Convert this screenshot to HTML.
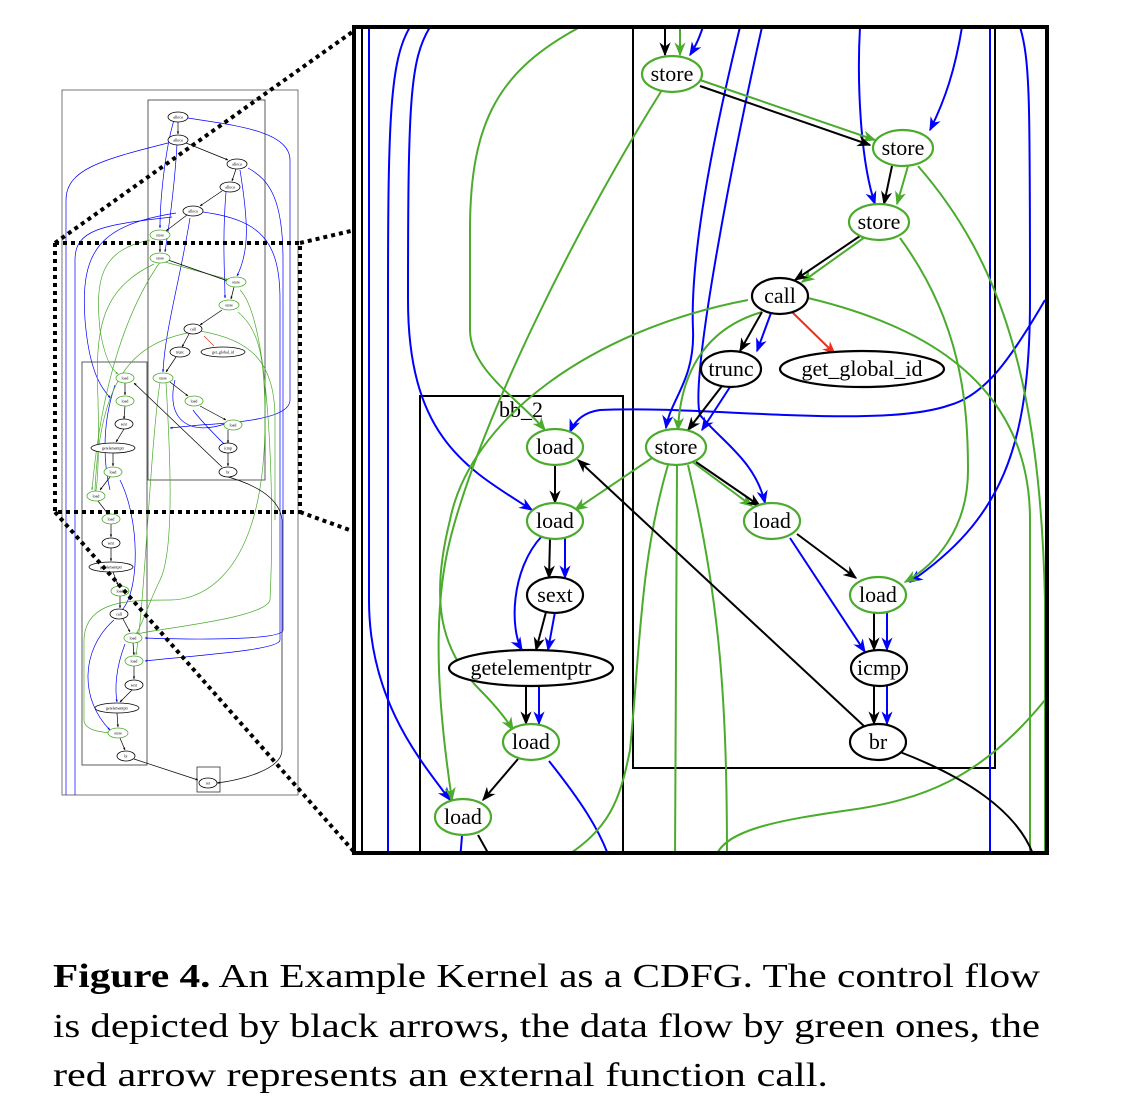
<!DOCTYPE html>
<html><head><meta charset="utf-8"><style>
html,body{margin:0;padding:0;background:#fff;}
svg{display:block;}
.cap{font-family:"Liberation Serif",serif;font-size:34px;fill:#000;}
</style></head><body>
<svg id="fig" width="1136" height="1112" viewBox="0 0 1136 1112" xmlns="http://www.w3.org/2000/svg">
<defs>
<marker id="ak" viewBox="0 0 10 10" refX="9" refY="5" markerWidth="7" markerHeight="7" orient="auto"><path d="M0,1 L10,5 L0,9 L3,5z" fill="#000"/></marker>
<marker id="ab" viewBox="0 0 10 10" refX="9" refY="5" markerWidth="7" markerHeight="7" orient="auto"><path d="M0,1 L10,5 L0,9 L3,5z" fill="#0000ff"/></marker>
<marker id="ag" viewBox="0 0 10 10" refX="9" refY="5" markerWidth="7" markerHeight="7" orient="auto"><path d="M0,1 L10,5 L0,9 L3,5z" fill="#4aab2c"/></marker>
<marker id="ar" viewBox="0 0 10 10" refX="9" refY="5" markerWidth="7" markerHeight="7" orient="auto"><path d="M0,1 L10,5 L0,9 L3,5z" fill="#e8321e"/></marker>
<marker id="sk" viewBox="0 0 10 10" refX="9" refY="5" markerWidth="4" markerHeight="4" orient="auto"><path d="M0,1 L10,5 L0,9z" fill="#000"/></marker>
<marker id="sb" viewBox="0 0 10 10" refX="9" refY="5" markerWidth="4" markerHeight="4" orient="auto"><path d="M0,1 L10,5 L0,9z" fill="#0000ff"/></marker>
<marker id="sg" viewBox="0 0 10 10" refX="9" refY="5" markerWidth="4" markerHeight="4" orient="auto"><path d="M0,1 L10,5 L0,9z" fill="#4aab2c"/></marker>
<clipPath id="mainclip"><rect x="354" y="27" width="693" height="826"/></clipPath>
</defs>

<g>
<rect x="62" y="90" width="236" height="705" fill="none" stroke="#555" stroke-width="0.8"/>
<rect x="148" y="100" width="117" height="380" fill="none" stroke="#333" stroke-width="0.8"/>
<rect x="82" y="362" width="65" height="403" fill="none" stroke="#333" stroke-width="0.8"/>
<rect x="197" y="767" width="23" height="25" fill="none" stroke="#333" stroke-width="0.8"/>
<g fill="none" stroke-width="0.7">
<path d="M188,118 C230,125 290,130 290,160 L290,400 C290,420 230,423 200,425 L170,428" stroke="#0000ff" marker-end="url(#sb)"/>
<path d="M168,143 C100,160 66,170 66,200 L66,795" stroke="#0000ff"/>
<path d="M172,217 C100,225 75,230 75,260 L75,795" stroke="#0000ff"/>
<path d="M176,213 C100,225 80,250 85,320 C90,380 105,390 110,398" stroke="#0000ff" marker-end="url(#sb)"/>
<path d="M203,212 C260,220 280,240 280,300 L280,640 C280,650 200,655 145,661" stroke="#0000ff" marker-end="url(#sb)"/>
<path d="M248,168 C270,180 283,200 283,260 L283,630 C283,640 200,640 145,638" stroke="#0000ff" marker-end="url(#sb)"/>
<path d="M174,120 C165,150 160,200 160,228" stroke="#0000ff" marker-end="url(#sb)"/>
<path d="M177,144 C175,180 170,220 165,252" stroke="#0000ff" marker-end="url(#sb)"/>
<path d="M190,218 C180,280 165,330 163,372" stroke="#0000ff" marker-end="url(#sb)"/>
<path d="M240,170 C248,220 250,250 237,276" stroke="#0000ff" marker-end="url(#sb)"/>
<path d="M226,192 C222,240 225,280 225,298" stroke="#0000ff" marker-end="url(#sb)"/>
<path d="M175,380 C165,420 190,440 235,420" stroke="#0000ff"/>
<path d="M193,410 C200,420 220,440 225,445" stroke="#0000ff" marker-end="url(#sb)"/>
<path d="M115,385 C100,430 105,470 110,490" stroke="#0000ff"/>
<path d="M120,480 C140,520 140,590 122,610" stroke="#0000ff"/>
<path d="M114,620 C80,650 80,700 110,730" stroke="#0000ff" marker-end="url(#sb)"/>
<path d="M125,644 C115,670 115,690 117,702" stroke="#0000ff" marker-end="url(#sb)"/>
<path d="M154,264 C100,290 95,330 98,400 C100,480 95,500 95,490" stroke="#4aab2c"/>
<path d="M150,240 C100,250 95,280 100,330 C105,360 112,370 118,374" stroke="#4aab2c" marker-end="url(#sg)"/>
<path d="M165,262 L230,280" stroke="#4aab2c" marker-end="url(#sg)"/>
<path d="M238,312 C260,330 265,360 265,420 C265,600 180,600 170,600 C130,600 85,600 84,640 L84,720 C84,730 100,732 110,733" stroke="#4aab2c" marker-end="url(#sg)"/>
<path d="M160,382 C150,450 145,600 136,655" stroke="#4aab2c" marker-end="url(#sg)"/>
<path d="M166,382 C170,450 175,550 160,580 C150,600 140,630 136,634" stroke="#4aab2c" marker-end="url(#sg)"/>
<path d="M240,290 C270,320 275,500 270,600 C265,620 140,630 135,635" stroke="#4aab2c"/>
<path d="M200,331 C130,340 100,380 95,490" stroke="#4aab2c"/>
<path d="M200,331 C250,340 275,360 275,420 L275,520" stroke="#4aab2c"/>
<path d="M160,262 C120,320 100,400 92,490" stroke="#4aab2c" marker-end="url(#sg)"/>
</g>
<g fill="none" stroke="#000" stroke-width="0.7">
<path d="M178,122 L178,134" marker-end="url(#sk)"/>
<path d="M186,143 L228,160" marker-end="url(#sk)"/>
<path d="M236,169 L232,181" marker-end="url(#sk)"/>
<path d="M222,191 L200,206" marker-end="url(#sk)"/>
<path d="M187,215 L166,231" marker-end="url(#sk)"/>
<path d="M160,240 L160,252" marker-end="url(#sk)"/>
<path d="M168,260 L228,281" marker-end="url(#sk)"/>
<path d="M234,287 L231,299" marker-end="url(#sk)"/>
<path d="M222,310 L200,325" marker-end="url(#sk)"/>
<path d="M189,334 L182,347" marker-end="url(#sk)"/>
<path d="M176,357 L166,372" marker-end="url(#sk)"/>
<path d="M125,383 L125,395" marker-end="url(#sk)"/>
<path d="M170,382 L188,396" marker-end="url(#sk)"/>
<path d="M200,406 L226,420" marker-end="url(#sk)"/>
<path d="M125,406 L124,419" marker-end="url(#sk)"/>
<path d="M124,429 L116,442" marker-end="url(#sk)"/>
<path d="M228,430 L228,443" marker-end="url(#sk)"/>
<path d="M113,453 L113,466" marker-end="url(#sk)"/>
<path d="M228,453 L228,466" marker-end="url(#sk)"/>
<path d="M110,477 L100,490" marker-end="url(#sk)"/>
<path d="M98,501 L108,514" marker-end="url(#sk)"/>
<path d="M111,524 L111,537" marker-end="url(#sk)"/>
<path d="M111,548 L111,561" marker-end="url(#sk)"/>
<path d="M113,572 L118,585" marker-end="url(#sk)"/>
<path d="M120,596 L120,608" marker-end="url(#sk)"/>
<path d="M123,619 L130,632" marker-end="url(#sk)"/>
<path d="M133,643 L134,655" marker-end="url(#sk)"/>
<path d="M134,666 L134,679" marker-end="url(#sk)"/>
<path d="M132,690 L120,702" marker-end="url(#sk)"/>
<path d="M117,713 L118,727" marker-end="url(#sk)"/>
<path d="M120,738 L125,750" marker-end="url(#sk)"/>
<path d="M134,759 L198,780" marker-end="url(#sk)"/>
<path d="M221,475 C260,485 280,500 282,520 L282,750 C282,770 240,780 217,783" marker-end="url(#sk)"/>
<path d="M222,467 L134,383" marker-end="url(#sk)"/>
</g>
<path d="M204,336 L214,346" fill="none" stroke="#e8321e" stroke-width="0.7"/>
<g id="mini-nodes"></g>
</g>

<g fill="none" stroke="#000" stroke-width="4" stroke-dasharray="4,4">
<path d="M55,243 L300,243 L300,512 L55,512" />
<path d="M55,243 L355,30"/>
<path d="M300,243 L355,230"/>
<path d="M55,512 L355,853"/>
<path d="M300,512 L355,532"/>
<path d="M55,243 L55,512"/>
</g>

<rect x="354" y="27" width="693" height="826" fill="#fff"/>
<g clip-path="url(#mainclip)">
<g fill="none" stroke="#000" stroke-width="2">
<line x1="362" y1="27" x2="362" y2="853"/>
<path d="M633,20 L633,768 L995,768 L995,20"/>
<rect x="420" y="396" width="203" height="470"/>
</g>
<text x="521" y="417" text-anchor="middle" font-family="Liberation Serif,serif" font-size="22">bb_2</text>

<g fill="none" stroke="#0000ff" stroke-width="2">
<path d="M369,27 L369,600 C369,700 420,760 450,800" marker-end="url(#ab)"/>
<path d="M410,27 C390,60 388,120 388,300 L388,853"/>
<path d="M430,27 C410,60 408,100 408,300 C408,440 470,470 532,510" marker-end="url(#ab)"/>
<path d="M1045,300 C1010,360 985,395 950,405 C880,430 700,405 600,410 C585,412 575,420 570,432" marker-end="url(#ab)"/>
<path d="M740,27 C710,150 690,260 693,330 C695,380 670,400 666,428" marker-end="url(#ab)"/>
<path d="M762,27 C730,170 690,380 700,415 C720,440 755,460 765,503" marker-end="url(#ab)"/>
<path d="M1020,27 C1030,60 1030,100 1030,300 C1030,450 1000,520 910,582" marker-end="url(#ab)"/>
<path d="M962,27 C955,70 945,100 930,130" marker-end="url(#ab)"/>
<path d="M860,27 C857,80 860,160 875,204" marker-end="url(#ab)"/>
<path d="M990,27 L990,853"/>
<path d="M703,27 C700,35 698,42 690,55" marker-end="url(#ab)"/>
<path d="M771,313 L757,351" marker-end="url(#ab)"/>
<path d="M730,387 L702,430" marker-end="url(#ab)"/>
<path d="M542,536 C510,570 510,630 522,650" marker-end="url(#ab)"/>
<path d="M565,538 L565,578" marker-end="url(#ab)"/>
<path d="M555,612 L548,650" marker-end="url(#ab)"/>
<path d="M539,686 L539,724" marker-end="url(#ab)"/>
<path d="M790,538 L865,652" marker-end="url(#ab)"/>
<path d="M887,612 L887,650" marker-end="url(#ab)"/>
<path d="M887,686 L887,724" marker-end="url(#ab)"/>
<path d="M549,761 C580,800 600,830 610,860"/>
<path d="M462,836 L460,860"/>
</g>

<g fill="none" stroke="#4aab2c" stroke-width="2">
<path d="M680,27 L680,55" marker-end="url(#ag)"/>
<path d="M700,80 L875,140" marker-end="url(#ag)"/>
<path d="M908,166 L897,204" marker-end="url(#ag)"/>
<path d="M865,237 L802,282" marker-end="url(#ag)"/>
<path d="M580,27 C500,70 470,120 470,230 L470,330 C470,370 520,400 545,430" marker-end="url(#ag)"/>
<path d="M662,90 C580,220 480,420 450,540 C430,620 440,720 452,800" marker-end="url(#ag)"/>
<path d="M918,166 C1000,260 1040,380 1045,600 L1045,860"/>
<path d="M900,238 C960,320 968,400 968,470 C968,530 935,565 905,582" marker-end="url(#ag)"/>
<path d="M748,300 C590,330 470,420 450,520 C430,600 440,650 480,690 C500,710 510,725 513,730" marker-end="url(#ag)"/>
<path d="M808,298 C900,320 1030,370 1030,520 L1030,860"/>
<path d="M762,312 C700,330 680,380 678,430" marker-end="url(#ag)"/>
<path d="M652,458 L575,510" marker-end="url(#ag)"/>
<path d="M690,460 L752,506" marker-end="url(#ag)"/>
<path d="M668,465 C640,560 640,650 630,750 C620,800 610,830 560,860"/>
<path d="M677,465 L675,860"/>
<path d="M688,465 C720,600 727,700 727,860"/>
<path d="M1045,700 C980,780 920,800 850,810 C780,820 720,830 715,860"/>
</g>

<g fill="none" stroke="#000" stroke-width="2">
<path d="M665,27 L665,55" marker-end="url(#ak)"/>
<path d="M700,86 L870,145" marker-end="url(#ak)"/>
<path d="M892,166 L884,204" marker-end="url(#ak)"/>
<path d="M860,236 L795,280" marker-end="url(#ak)"/>
<path d="M762,312 L740,351" marker-end="url(#ak)"/>
<path d="M722,386 L688,430" marker-end="url(#ak)"/>
<path d="M555,465 L555,503" marker-end="url(#ak)"/>
<path d="M696,462 L760,506" marker-end="url(#ak)"/>
<path d="M550,539 L549,578" marker-end="url(#ak)"/>
<path d="M546,612 L536,650" marker-end="url(#ak)"/>
<path d="M526,686 L526,724" marker-end="url(#ak)"/>
<path d="M797,534 L856,578" marker-end="url(#ak)"/>
<path d="M874,612 L874,650" marker-end="url(#ak)"/>
<path d="M874,686 L874,724" marker-end="url(#ak)"/>
<path d="M518,759 L483,800" marker-end="url(#ak)"/>
<path d="M865,727 L578,460" marker-end="url(#ak)"/>
<path d="M900,752 C960,775 1020,810 1035,860"/>
<path d="M478,835 L492,860"/>
</g>
<path d="M791,311 L835,354" fill="none" stroke="#e8321e" stroke-width="2" marker-end="url(#ar)"/>

<g id="main-nodes"></g>
</g>
<rect x="354" y="27" width="693" height="826" fill="none" stroke="#000" stroke-width="4"/>

<g>
<text class="cap" x="53" y="987" textLength="987" lengthAdjust="spacingAndGlyphs"><tspan font-weight="bold">Figure 4.</tspan> An Example Kernel as a CDFG. The control flow</text>
<text class="cap" x="53" y="1037" textLength="987" lengthAdjust="spacingAndGlyphs">is depicted by black arrows, the data flow by green ones, the</text>
<text class="cap" x="53" y="1086" textLength="775" lengthAdjust="spacingAndGlyphs">red arrow represents an external function call.</text>
</g>
</svg>
<script>
const NS = "http://www.w3.org/2000/svg";
const mainLabels = ["store","store","store","call","trunc","get_global_id","load","store","load","load","sext","load","getelementptr","icmp","load","br","load"];
const mainX = [672,903,879,780,731,862,555,676,555,772,555,878,531,879,531,878,463];
const mainY = [74,148,222,296,369,369,447,447,521,521,595,595,668,668,742,742,817];
const mainKind = ["g","g","g","k","k","k","g","g","g","g","k","g","k","k","g","k","g"];
const miniLabels = ["alloca","alloca","alloca","alloca","alloca","store","store","store","store","call","trunc","get_global_id","load","store","load","load","sext","load","getelementptr","icmp","load","br","load","load","sext","getelementptr","load","call","load","load","sext","getelementptr","store","br","ret"];
const miniX = [178,178,237,230,193,160,160,236,229,193,180,223,125,163,125,194,124,233,113,228,113,228,96,111,111,111,120,119,133,134,134,117,118,126,208];
const miniY = [117,140,164,187,211,235,258,282,305,329,352,352,378,378,401,401,424,425,448,448,472,472,496,519,543,567,591,614,638,661,685,708,733,756,783];
const miniKind = ["k","k","k","k","k","g","g","g","g","k","k","k","g","g","g","g","k","g","k","k","g","k","g","g","k","k","g","k","g","g","k","k","g","k","k"];
function rx(label, big){ if(label.length>8) return big?82:22; if(label.length>=5) return big?30:10; return big?28:9; }
const mg = document.getElementById("main-nodes");
for(let i=0;i<mainLabels.length;i++){
  const g=document.createElementNS(NS,"g");
  
  
  const e=document.createElementNS(NS,"ellipse");
  e.setAttribute("cx",mainX[i]);e.setAttribute("cy",mainY[i]);
  e.setAttribute("rx",rx(mainLabels[i],true));e.setAttribute("ry",18);
  e.setAttribute("fill","#fff");e.setAttribute("stroke",mainKind[i]=="g"?"#4aab2c":"#000");e.setAttribute("stroke-width","2.2");
  const t=document.createElementNS(NS,"text");
  t.setAttribute("x",mainX[i]);t.setAttribute("y",mainY[i]+7);t.setAttribute("text-anchor","middle");
  t.setAttribute("font-family","Liberation Serif, serif");t.setAttribute("font-size","22");
  t.textContent=mainLabels[i];
  g.appendChild(e);g.appendChild(t);mg.appendChild(g);
}
const ng = document.getElementById("mini-nodes");
for(let i=0;i<miniLabels.length;i++){
  const g=document.createElementNS(NS,"g");
  
  
  const e=document.createElementNS(NS,"ellipse");
  e.setAttribute("cx",miniX[i]);e.setAttribute("cy",miniY[i]);
  e.setAttribute("rx",rx(miniLabels[i],false));e.setAttribute("ry",5);
  e.setAttribute("fill","#fff");e.setAttribute("stroke",miniKind[i]=="g"?"#4aab2c":"#000");e.setAttribute("stroke-width","0.8");
  const t=document.createElementNS(NS,"text");
  t.setAttribute("x",miniX[i]);t.setAttribute("y",miniY[i]+1.5);t.setAttribute("text-anchor","middle");
  t.setAttribute("font-family","Liberation Serif, serif");t.setAttribute("font-size","4");
  t.textContent=miniLabels[i];
  g.appendChild(e);g.appendChild(t);ng.appendChild(g);
}
</script>
</body></html>
